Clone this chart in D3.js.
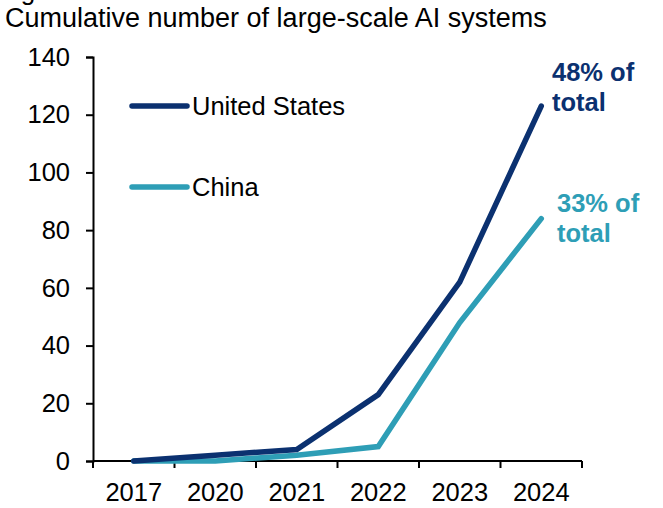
<!DOCTYPE html>
<html><head><meta charset="utf-8">
<script src="https://cdn.jsdelivr.net/npm/d3@7"></script>
<style>body{margin:0;background:#fff}svg{display:block}text{font-family:"Liberation Sans",Arial,sans-serif}</style>
</head><body>
<script>
const categories = ["2017","2020","2021","2022","2023","2024"];
const usValues = [0, 2, 4, 23, 62, 123];
const chinaValues = [0, 0, 2, 5, 48, 84];
const yTicks = [0,20,40,60,80,100,120,140];
const title = "Cumulative number of large-scale AI systems";
const seriesNames = ["United States","China"];
const notes = [["48% of","total"],["33% of","total"]];
const colors = ["#0B3170","#2E9EB6"];

const W=663,H=508;
const svg=d3.select("body").append("svg").attr("width",W).attr("height",H);
const m={l:93,r:81,t:57,b:47};
const x=d3.scaleBand().domain(categories).range([m.l,W-m.r]);
const y=d3.scaleLinear().domain([0,140]).range([H-m.b,m.t]);

svg.append("text").attr("x",-1).attr("y",0).attr("font-size",26).text("Figure");
svg.append("text").attr("x",5).attr("y",27).attr("font-size",27).text(title);

const ya=svg.append("g").attr("transform",`translate(${m.l},0)`)
 .call(d3.axisLeft(y).tickValues(yTicks).tickSize(7).tickPadding(16));
const xa=svg.append("g").attr("transform",`translate(0,${y(0)})`)
 .call(d3.axisBottom(x).tickSize(0).tickPadding(22));
[ya,xa].forEach(a=>{a.selectAll("path,line").attr("stroke","#000").attr("stroke-width",2);
 a.selectAll("text").attr("font-size",25.5).attr("fill","#000").attr("font-family","Liberation Sans, Arial, sans-serif");});
// x ticks between categories
const bounds=categories.map(c=>x(c)).concat([x(categories[categories.length-1])+x.bandwidth()]);
xa.selectAll(".sep").data(bounds).enter().append("line").attr("class","sep")
 .attr("x1",d=>d).attr("x2",d=>d).attr("y1",0).attr("y2",7).attr("stroke","#000").attr("stroke-width",2);
xa.select(".domain").attr("d",`M${m.l},0H${W-m.r}`);

const line=d3.line().x((d,i)=>x(categories[i])+x.bandwidth()/2).y(d=>y(d));
[chinaValues,usValues].forEach((v,k)=>{
 svg.append("path").attr("d",line(v)).attr("fill","none")
  .attr("stroke",colors[1-k]).attr("stroke-width",5.5).attr("stroke-linecap","round").attr("stroke-linejoin","miter");
});

// legend
const legY=[106,187];
seriesNames.forEach((n,i)=>{
 svg.append("line").attr("x1",132).attr("x2",187).attr("y1",legY[i]).attr("y2",legY[i])
  .attr("stroke",colors[i]).attr("stroke-width",5.5).attr("stroke-linecap","round");
 svg.append("text").attr("x",192).attr("y",legY[i]+8.5).attr("font-size",25.5).text(n);
});

// annotations
const noteX=[552,557], noteY=[81,212];
notes.forEach((ls,i)=>{
 ls.forEach((t,j)=>svg.append("text").attr("x",noteX[i]).attr("y",noteY[i]+j*30)
  .attr("font-size",25.5).attr("font-weight","bold").attr("fill",colors[i]).text(t));
});
</script>
</body></html>
